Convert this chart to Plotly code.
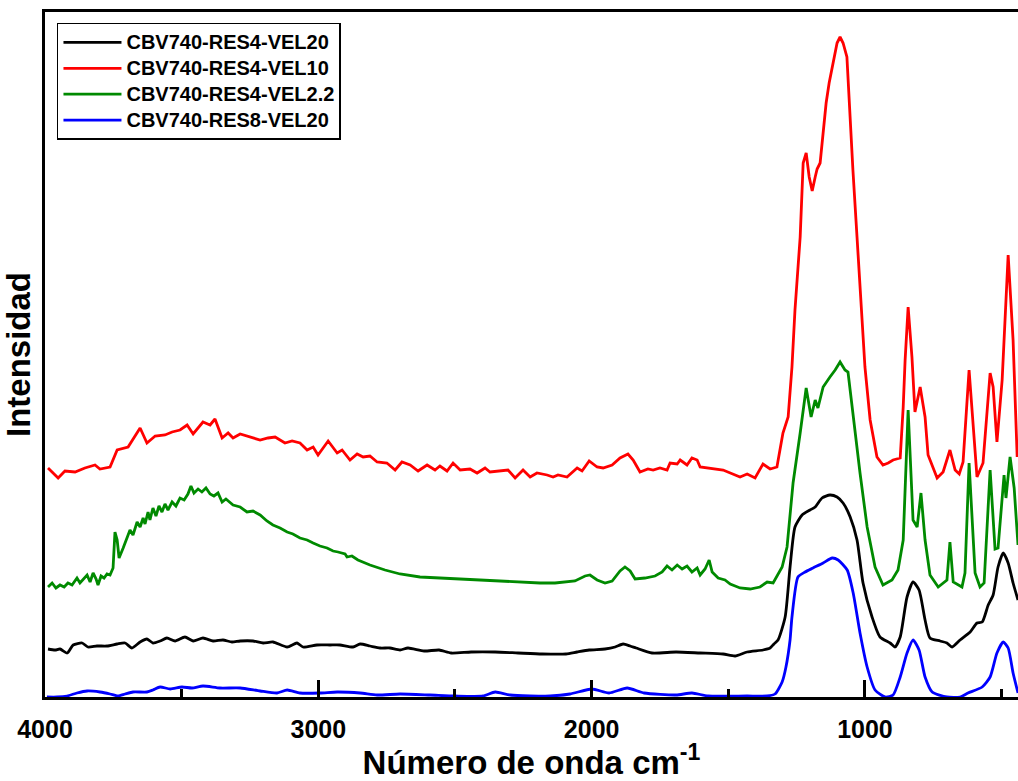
import plotly.graph_objects as go

# Wavenumber (cm-1) and intensity (a.u.)
red_wn = [3989, 3952, 3927, 3890, 3854, 3817, 3799, 3762, 3736, 3696, 3652, 3627, 3597, 3561, 3535, 3506, 3480, 3458,
          3422, 3396, 3378, 3352, 3330, 3312, 3286, 3250, 3213, 3184, 3158, 3122, 3096, 3067, 3041, 3019, 3001, 2964,
          2931, 2913, 2884, 2858, 2836, 2811, 2785, 2749, 2719, 2694, 2664, 2635, 2602, 2573, 2555, 2529, 2507, 2481,
          2445, 2419, 2390, 2372, 2306, 2280, 2251, 2225, 2200, 2163, 2141, 2123, 2090, 2053, 2035, 2009, 1980, 1958,
          1925, 1896, 1867, 1848, 1823, 1794, 1775, 1750, 1724, 1713, 1687, 1676, 1651, 1633, 1614, 1603, 1567, 1519,
          1457, 1431, 1402, 1373, 1347, 1322, 1311, 1300, 1281, 1267, 1256, 1237, 1226, 1215, 1204, 1193, 1182, 1175,
          1164, 1153, 1142, 1131, 1117, 1102, 1091, 1080, 1066, 1058, 1044, 1029, 1011, 1000, 981, 956, 934, 915, 897,
          871, 860, 853, 842, 828, 817, 798, 780, 769, 736, 714, 689, 670, 655, 641, 619, 597, 590, 568, 542, 531, 517,
          498, 476, 458, 443]
red_int = [229, 219, 226, 225, 229, 232, 228, 230, 247, 250, 269, 254, 261, 262, 265, 267, 272, 263,
           275, 272, 278, 259, 264, 259, 263, 260, 257, 259, 260, 254, 256, 254, 247, 250, 242, 256,
           244, 247, 237, 243, 240, 241, 235, 234, 227, 235, 232, 226, 232, 227, 231, 226, 234, 227,
           228, 224, 229, 225, 227, 219, 227, 220, 224, 222, 220, 222, 220, 229, 226, 236, 230, 229,
           232, 239, 243, 237, 225, 228, 227, 229, 227, 234, 233, 237, 232, 239, 237, 230, 229, 227,
           220, 223, 219, 233, 228, 230, 247, 264, 280, 330, 387, 460, 534, 544, 520, 506, 520, 528,
           534, 567, 594, 614, 634, 654, 660, 654, 640, 594, 527, 460, 377, 330, 277, 240, 232, 234, 237,
           239, 290, 337, 390, 340, 285, 310, 280, 242, 219, 225, 247, 227, 223, 235, 327, 244, 220, 234, 324, 310, 255,
           317, 442, 357, 240]

green_wn = [3989, 3974, 3960, 3945, 3930, 3916, 3901, 3883, 3872, 3861, 3846, 3835, 3824, 3813, 3806, 3795, 3784, 3773,
            3762, 3751, 3744, 3736, 3729, 3714, 3700, 3689, 3678, 3663, 3652, 3641, 3634, 3623, 3616, 3605, 3594, 3583,
            3572, 3561, 3550, 3535, 3521, 3506, 3491, 3477, 3466, 3455, 3440, 3426, 3411, 3396, 3382, 3367, 3352, 3338,
            3312, 3286, 3261, 3239, 3213, 3188, 3166, 3140, 3114, 3093, 3067, 3041, 3019, 2994, 2968, 2946, 2928, 2902,
            2895, 2877, 2855, 2811, 2756, 2701, 2628, 2555, 2481, 2408, 2335, 2262, 2189, 2134, 2097, 2061, 2024, 2006,
            1980, 1951, 1925, 1896, 1878, 1859, 1841, 1805, 1768, 1742, 1724, 1706, 1687, 1669, 1651, 1633, 1614, 1603,
            1585, 1570, 1559, 1537, 1512, 1493, 1457, 1420, 1384, 1358, 1336, 1303, 1285, 1263, 1237, 1215, 1197, 1182,
            1172, 1153, 1128, 1109, 1091, 1073, 1062, 1043, 1018, 992, 963, 934, 901, 879, 860, 842, 824, 809, 795, 780,
            762, 732, 700, 689, 677, 645, 634, 619, 597, 579, 564, 542, 524, 513, 491, 484, 469, 454, 440]
green_int = [110, 114, 109, 112, 110, 114, 112, 119, 114, 117, 122, 115, 124, 118, 112, 121, 119, 123,
             122, 129, 165, 157, 139, 149, 160, 167, 162, 175, 170, 179, 173, 185, 177, 189, 181, 191,
             185, 193, 187, 195, 191, 199, 197, 203, 211, 204, 208, 205, 209, 203, 201, 204, 195, 198,
             192, 190, 185, 186, 182, 176, 172, 169, 165, 163, 159, 157, 154, 151, 149, 146, 145, 143,
             140, 141, 137, 132, 127, 123, 120, 119, 118, 117, 116, 115, 114, 114, 115, 116, 121, 122,
             117, 114, 116, 126, 130, 126, 118, 119, 121, 125, 131, 127, 132, 128, 131, 125, 129, 122,
             128, 137, 125, 119, 117, 113, 109, 108, 110, 115, 114, 130, 150, 214, 264, 309, 280, 297,
             289, 310, 320, 327, 335, 327, 325, 280, 224, 170, 130, 112, 117, 127, 157, 287, 177, 170, 204, 157,
             122, 110, 117, 155, 115, 110, 124, 234, 124, 110, 114, 227, 148, 149, 222, 199, 240, 209, 152]

black_wn = [3989, 3963, 3945, 3919, 3897, 3864, 3843, 3810, 3773, 3736, 3707, 3682, 3652, 3627, 3605, 3579, 3554, 3524,
            3488, 3458, 3422, 3385, 3349, 3316, 3286, 3239, 3202, 3166, 3114, 3078, 3056, 3005, 2957, 2921, 2873, 2847,
            2811, 2774, 2738, 2701, 2672, 2613, 2558, 2514, 2441, 2353, 2269, 2181, 2094, 2053, 2009, 1951, 1914, 1885,
            1859, 1837, 1779, 1691, 1603, 1519, 1475, 1431, 1373, 1347, 1333, 1318, 1292, 1274, 1256, 1230, 1201, 1182,
            1157, 1128, 1102, 1080, 1054, 1029, 1007, 974, 945, 908, 890, 871, 846, 824, 802, 780, 762, 725, 700, 681,
            652, 615, 590, 571, 549, 531, 513, 494, 476, 458, 440]
black_int = [48, 47, 48, 44, 52, 54, 50, 51, 51, 53, 54, 49, 55, 58, 54, 56, 59, 56,
             60, 56, 59, 56, 57, 55, 56, 56, 54, 55, 50, 54, 50, 52, 52, 52, 50, 53,
             51, 49, 49, 47, 49, 46, 47, 44, 45, 45, 44, 43, 43, 45, 47, 48, 50, 53,
             51, 49, 44, 45, 44, 43, 41, 45, 47, 49, 53, 57, 80, 130, 170, 182, 187, 190,
             199, 202, 200, 194, 180, 157, 114, 80, 60, 54, 50, 60, 100, 115, 107, 77, 59, 56, 54, 50,
             57, 65, 74, 75, 92, 102, 130, 144, 134, 114, 97]

blue_wn = [3993, 3956, 3919, 3883, 3846, 3799, 3762, 3733, 3707, 3678, 3627, 3605, 3579, 3542, 3499, 3462, 3422, 3360,
           3286, 3213, 3151, 3114, 3067, 2994, 2931, 2847, 2785, 2701, 2591, 2500, 2397, 2353, 2298, 2152, 2079, 1999,
           1936, 1870, 1808, 1691, 1633, 1574, 1431, 1358, 1329, 1303, 1289, 1274, 1267, 1245, 1219, 1190, 1153, 1120,
           1098, 1065, 1043, 1018, 992, 963, 926, 897, 871, 846, 824, 802, 780, 754, 700, 652, 623, 571, 542, 517, 494,
           476, 458, 440]
blue_int = [0, 0, 1, 4, 6, 5, 3, 1, 3, 5, 5, 7, 10, 8, 10, 9, 11, 9,
            9, 6, 4, 7, 4, 4, 5, 4, 2, 3, 2, 1, 1, 5, 2, 1, 3, 8,
            4, 9, 4, 2, 4, 1, 1, 1, 3, 15, 30, 57, 80, 120, 125, 129, 134, 139,
            137, 127, 104, 64, 30, 7, 0, 2, 20, 44, 57, 47, 20, 5, 0, 0, 4, 10, 20, 44, 55,
            49, 24, 4]

names = ["CBV740-RES4-VEL20", "CBV740-RES4-VEL10", "CBV740-RES4-VEL2.2", "CBV740-RES8-VEL20"]
colors = ["#000000", "#ff0000", "#008a00", "#0000ff"]
series = [(black_wn, black_int), (red_wn, red_int), (green_wn, green_int), (blue_wn, blue_int)]
shapes = ["spline", "linear", "linear", "spline"]

fig = go.Figure()
for (wn, inten), name, col, shp in zip(series, names, colors, shapes):
    fig.add_trace(go.Scatter(x=wn, y=inten, mode="lines",
                             name='<span style="font-size:20px">' + name + '</span>',
                             line=dict(color=col, width=2.8, shape=shp, smoothing=0.6)))

font_family = "Liberation Sans, Arial, sans-serif"
fig.update_layout(
    width=1018, height=781,
    margin=dict(l=45, r=0, t=12, b=84),
    plot_bgcolor="white", paper_bgcolor="white",
    font=dict(family=font_family, color="black"),
    showlegend=True,
    legend=dict(x=0.0123, y=0.984, xanchor="left", yanchor="top",
                bordercolor="black", borderwidth=1.5, bgcolor="white",
                font=dict(family=font_family, size=17.6, weight="bold", color="black"),
                itemwidth=58, tracegroupgap=0),
    xaxis=dict(
        range=[4000, 440], showgrid=False, zeroline=False,
        showline=True, linecolor="black", linewidth=3, mirror=True,
        tickmode="array", tickvals=[4000, 3000, 2000, 1000],
        ticks="inside", ticklen=17, tickwidth=2.5, tickcolor="black",
        minor=dict(tickmode="array", tickvals=[3500, 2500, 1500, 500], ticks="inside",
                   ticklen=8, tickwidth=2.5, tickcolor="black", showgrid=False),
        tickfont=dict(family=font_family, size=25, weight="bold", color="black"),
        ticklabelstandoff=8,
        title=dict(text="Número de onda cm<sup>-1</sup>", standoff=14,
                   font=dict(family=font_family, size=33, weight="bold", color="black")),
    ),
    yaxis=dict(
        range=[0, 685], showgrid=False, zeroline=False,
        showline=True, linecolor="black", linewidth=3, mirror=False,
        showticklabels=False, ticks="",
        title=dict(text="Intensidad", standoff=6,
                   font=dict(family=font_family, size=33, weight="bold", color="black")),
    ),
)

fig.write_html("out.html", config={"displayModeBar": False},
               post_script="document.body.style.margin='0';document.body.style.overflow='hidden';")
